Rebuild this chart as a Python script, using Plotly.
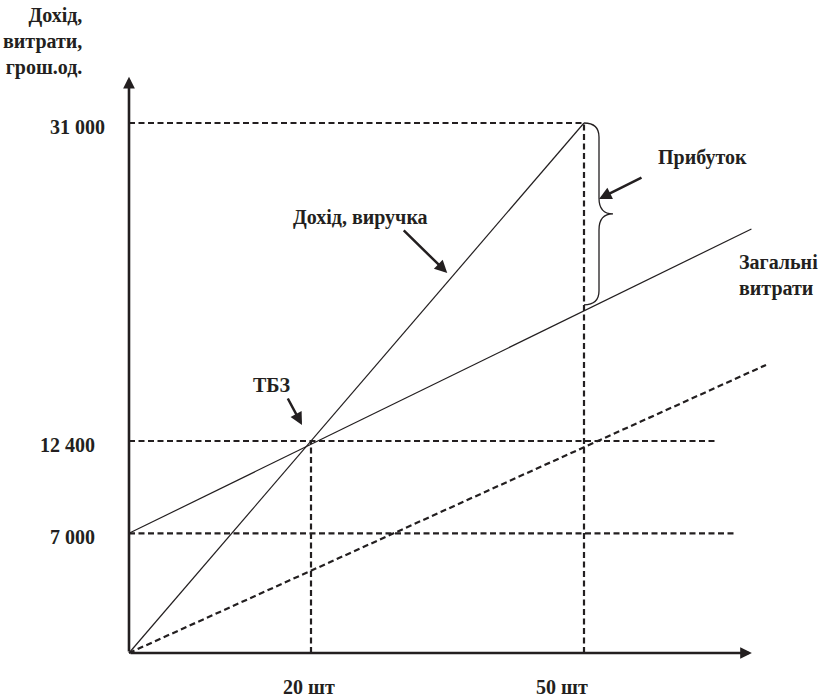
import plotly.graph_objects as go

# ---------------------------------------------------------------------------
# Break-even chart data (quantity in шт, money in грош.од.)
# ---------------------------------------------------------------------------
revenue_qty = [0, 50]
revenue_val = [0, 31000]

total_cost_qty = [0, 68.4]
total_cost_val = [7000, 24800]

variable_cost_qty = [0, 70.0]
variable_cost_val = [0, 16850]

break_even_qty = 20
break_even_val = 12400

# horizontal dashed guides: level and how far to the right each one runs
guide_levels = [31000, 12400, 7000]
guide_ends = [50, 64.7, 66.7]
# vertical dashed guides: quantity and the level each one rises to
guide_qtys = [20, 50]
guide_tops = [12400, 31000]

y_tick_values = [31000, 12400, 7000]
y_tick_labels = ["31 000", "12 400", "7 000"]
x_tick_values = [20, 50]
x_tick_labels = ["20 шт", "50 шт"]

# axis extents (where the arrow tips sit)
X_AXIS_END = 68.45
Y_AXIS_END = 33700

# ---------------------------------------------------------------------------
# Canvas calibration
# ---------------------------------------------------------------------------
W, H = 820, 699
ORIGIN_PX = (129, 653)
X_PX_PER_UNIT = 9.1
Y_PX_PER_UNIT = 530 / 31000

x_range = [-ORIGIN_PX[0] / X_PX_PER_UNIT, (W - ORIGIN_PX[0]) / X_PX_PER_UNIT]
y_range = [-(H - ORIGIN_PX[1]) / Y_PX_PER_UNIT, ORIGIN_PX[1] / Y_PX_PER_UNIT]


def dx(px):
    return px / X_PX_PER_UNIT


def dy(px):
    return px / Y_PX_PER_UNIT


def paper_x(px):
    return px / W


def paper_y(py):
    return 1 - py / H


INK = "#231f20"
FONT = dict(family="Liberation Serif, Times New Roman, serif", size=20, color=INK, weight="bold")
DASH = "6px,3.5px"

fig = go.Figure()

# dashed guide lines
for level, end in zip(guide_levels, guide_ends):
    fig.add_trace(go.Scatter(x=[0, end], y=[level, level], mode="lines",
                             line=dict(color=INK, width=2.2, dash=DASH), hoverinfo="skip"))
for q, top in zip(guide_qtys, guide_tops):
    fig.add_trace(go.Scatter(x=[q, q], y=[0, top], mode="lines",
                             line=dict(color=INK, width=2.2, dash=DASH), hoverinfo="skip"))

# variable costs (dashed), total costs, revenue
fig.add_trace(go.Scatter(x=variable_cost_qty, y=variable_cost_val, mode="lines",
                         line=dict(color=INK, width=2.2, dash=DASH), name="Змінні витрати"))
fig.add_trace(go.Scatter(x=total_cost_qty, y=total_cost_val, mode="lines",
                         line=dict(color=INK, width=1.2), name="Загальні витрати"))
fig.add_trace(go.Scatter(x=revenue_qty, y=revenue_val, mode="lines",
                         line=dict(color=INK, width=1.2), name="Дохід, виручка"))

# profit brace at the sales volume, between revenue and total costs
sales_q = revenue_qty[-1]
top = revenue_val[-1]
cost_at_sales = total_cost_val[0] + (total_cost_val[1] - total_cost_val[0]) * sales_q / total_cost_qty[1]
bot = cost_at_sales + dy(6)
mid = (top + bot) / 2
x0, x1, x2 = sales_q, sales_q + dx(15), sales_q + dx(29)
brace = (
    f"M {x0},{top} "
    f"Q {x1},{top} {x1},{top - dy(14)} "
    f"L {x1},{mid + dy(16)} "
    f"Q {x1},{mid} {x2},{mid} "
    f"Q {x1},{mid} {x1},{mid - dy(16)} "
    f"L {x1},{bot + dy(14)} "
    f"Q {x1},{bot} {x0},{bot}"
)
fig.add_shape(type="path", path=brace, xref="x", yref="y",
              line=dict(color=INK, width=1.3))

annotations = []

# axes drawn as arrows from the origin
for tip in [(X_AXIS_END, 0), (0, Y_AXIS_END)]:
    annotations.append(dict(x=tip[0], y=tip[1], ax=0, ay=0, xref="x", yref="y",
                            axref="x", ayref="y", text="", showarrow=True,
                            arrowhead=2, arrowsize=0.9, arrowwidth=2.6,
                            arrowcolor=INK, standoff=0, startstandoff=0))

# pointer arrows (tip near the mark, tail offset in pixels)
rev_q = 35.85
pointers = [
    # (x, y, xshift, yshift, ax, ay)
    (sales_q, mid, 15, 15, 44, -22),                          # Прибуток
    (rev_q, rev_q * revenue_val[1] / revenue_qty[1], -8, 0, -45, -44),  # Дохід, виручка
    (break_even_qty, break_even_val, -9, 16, -15, -28),        # ТБЗ
]
for x, y, xs, ys, ax, ay in pointers:
    annotations.append(dict(x=x, y=y, xref="x", yref="y", xshift=xs, yshift=ys,
                            ax=ax, ay=ay, text="", showarrow=True, arrowhead=2,
                            arrowsize=1.0, arrowwidth=2.5, arrowcolor=INK,
                            standoff=0))

# y tick labels
y_label_right = [107, 97, 97]
for v, lab, r in zip(y_tick_values, y_tick_labels, y_label_right):
    annotations.append(dict(x=paper_x(r), y=v, xref="paper", yref="y", yshift=-4,
                            xanchor="right", yanchor="middle", text=lab,
                            showarrow=False, font=FONT))

# x tick labels
x_label_shift = [-2, -22]
for v, lab, s in zip(x_tick_values, x_tick_labels, x_label_shift):
    annotations.append(dict(x=v, y=paper_y(687), xref="x", yref="paper", xshift=s,
                            xanchor="center", yanchor="middle", text=lab,
                            showarrow=False, font=FONT))

# titles and captions
captions = [
    ("Дохід,<br>витрати,<br>грош.од.", 84, 42, "right", "right"),
    ("Прибуток", 702, 157, "center", "center"),
    ("Дохід, виручка", 360, 218, "center", "center"),
    ("Загальні<br>витрати", 737, 275, "left", "left"),
    ("ТБЗ", 272, 385, "center", "center"),
]
for text, px, py, anchor, align in captions:
    annotations.append(dict(x=paper_x(px), y=paper_y(py), xref="paper", yref="paper",
                            xanchor=anchor, yanchor="middle", align=align, text=text,
                            showarrow=False, font=FONT))

fig.update_layout(
    width=W, height=H,
    margin=dict(l=0, r=0, t=0, b=0),
    paper_bgcolor="white", plot_bgcolor="white",
    showlegend=False,
    xaxis=dict(range=x_range, visible=False, fixedrange=True),
    yaxis=dict(range=y_range, visible=False, fixedrange=True),
    annotations=annotations,
)

fig.write_html("out.html")
